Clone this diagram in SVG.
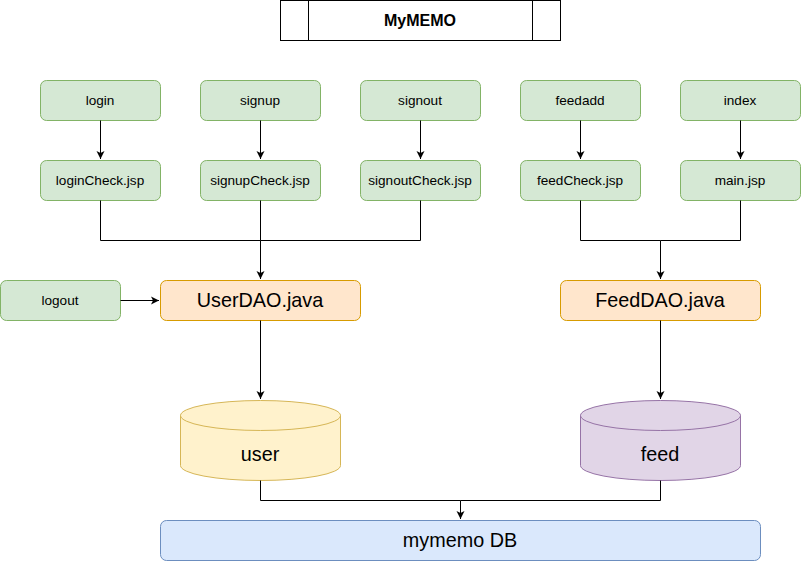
<svg xmlns="http://www.w3.org/2000/svg" width="801" height="561" viewBox="0 0 801 561">
<style>
text{font-family:"Liberation Sans",Arial,sans-serif;fill:#000;text-anchor:middle;dominant-baseline:central}
.g{fill:#d5e8d4;stroke:#82b366}
.o{fill:#ffe6cc;stroke:#d79b00}
.s{font-size:13.6px}
.b{font-size:19.8px}
.c{fill:none;stroke:#000;stroke-width:1}
</style>
<defs>
<marker id="a" markerWidth="10" markerHeight="10" refX="8" refY="5" orient="auto" markerUnits="userSpaceOnUse"><path d="M0,1 L8,5 L0,9 L2,5 z" fill="#000"/></marker>
</defs>
<rect width="801" height="561" fill="#fff"/>
<g id="title"><rect x="280.5" y="0.5" width="280" height="40" fill="#fff" stroke="#000"/><line x1="308.5" y1="0.5" x2="308.5" y2="40.5" stroke="#000"/><line x1="532.5" y1="0.5" x2="532.5" y2="40.5" stroke="#000"/><text x="420" y="20" style="font-size:16px;font-weight:bold">MyMEMO</text></g>
<g id="login"><rect class="g" x="40.5" y="80.5" width="120" height="40" rx="6"/><text class="s" x="100" y="100">login</text></g>
<g id="signup"><rect class="g" x="200.5" y="80.5" width="120" height="40" rx="6"/><text class="s" x="260" y="100">signup</text></g>
<g id="signout"><rect class="g" x="360.5" y="80.5" width="120" height="40" rx="6"/><text class="s" x="420" y="100">signout</text></g>
<g id="feedadd"><rect class="g" x="520.5" y="80.5" width="120" height="40" rx="6"/><text class="s" x="580" y="100">feedadd</text></g>
<g id="index"><rect class="g" x="680.5" y="80.5" width="120" height="40" rx="6"/><text class="s" x="740" y="100">index</text></g>
<g id="loginCheck"><rect class="g" x="40.5" y="160.5" width="120" height="40" rx="6"/><text class="s" x="100" y="180">loginCheck.jsp</text></g>
<g id="signupCheck"><rect class="g" x="200.5" y="160.5" width="120" height="40" rx="6"/><text class="s" x="260" y="180">signupCheck.jsp</text></g>
<g id="signoutCheck"><rect class="g" x="360.5" y="160.5" width="120" height="40" rx="6"/><text class="s" x="420" y="180">signoutCheck.jsp</text></g>
<g id="feedCheck"><rect class="g" x="520.5" y="160.5" width="120" height="40" rx="6"/><text class="s" x="580" y="180">feedCheck.jsp</text></g>
<g id="main"><rect class="g" x="680.5" y="160.5" width="120" height="40" rx="6"/><text class="s" x="740" y="180">main.jsp</text></g>
<g id="logout"><rect class="g" x="0.5" y="280.5" width="120" height="40" rx="6"/><text class="s" x="60" y="300">logout</text></g>
<g id="userdao"><rect class="o" x="160.5" y="280.5" width="200" height="40" rx="6"/><text class="b" x="260" y="300">UserDAO.java</text></g>
<g id="feeddao"><rect class="o" x="560.5" y="280.5" width="200" height="40" rx="6"/><text class="b" x="660" y="300">FeedDAO.java</text></g>
<g id="user"><path d="M180.5,415.5 A80,15 0 0 1 340.5,415.5 L340.5,465.5 A80,15 0 0 1 180.5,465.5 Z" fill="#fff2cc" stroke="#d6b656"/><path d="M180.5,415.5 A80,15 0 0 0 340.5,415.5" fill="none" stroke="#d6b656"/><text class="b" x="260" y="454">user</text></g>
<g id="feed"><path d="M580.5,415.5 A80,15 0 0 1 740.5,415.5 L740.5,465.5 A80,15 0 0 1 580.5,465.5 Z" fill="#e1d5e7" stroke="#9673a6"/><path d="M580.5,415.5 A80,15 0 0 0 740.5,415.5" fill="none" stroke="#9673a6"/><text class="b" x="660" y="454">feed</text></g>
<g id="db"><rect x="160.5" y="520.5" width="600" height="40" rx="6" fill="#dae8fc" stroke="#6c8ebf"/><text class="b" x="460" y="540">mymemo DB</text></g>
<g id="connectors">
<path class="c" d="M100.5,120.5 V159" marker-end="url(#a)"/>
<path class="c" d="M260.5,120.5 V159" marker-end="url(#a)"/>
<path class="c" d="M420.5,120.5 V159" marker-end="url(#a)"/>
<path class="c" d="M580.5,120.5 V159" marker-end="url(#a)"/>
<path class="c" d="M740.5,120.5 V159" marker-end="url(#a)"/>
<path class="c" d="M100.5,200.5 V240.5 H260.5 V279" marker-end="url(#a)"/>
<path class="c" d="M420.5,200.5 V240.5 H260.5"/>
<path class="c" d="M260.5,200.5 V240.5"/>
<path class="c" d="M580.5,200.5 V240.5 H660.5 V279" marker-end="url(#a)"/>
<path class="c" d="M740.5,200.5 V240.5 H660.5"/>
<path class="c" d="M120.5,300.5 H159" marker-end="url(#a)"/>
<path class="c" d="M260.5,320.5 V399" marker-end="url(#a)"/>
<path class="c" d="M660.5,320.5 V399" marker-end="url(#a)"/>
<path class="c" d="M260.5,480.5 V500.5 H460.5 V519" marker-end="url(#a)"/>
<path class="c" d="M660.5,480.5 V500.5 H460.5"/>
</g>
</svg>
